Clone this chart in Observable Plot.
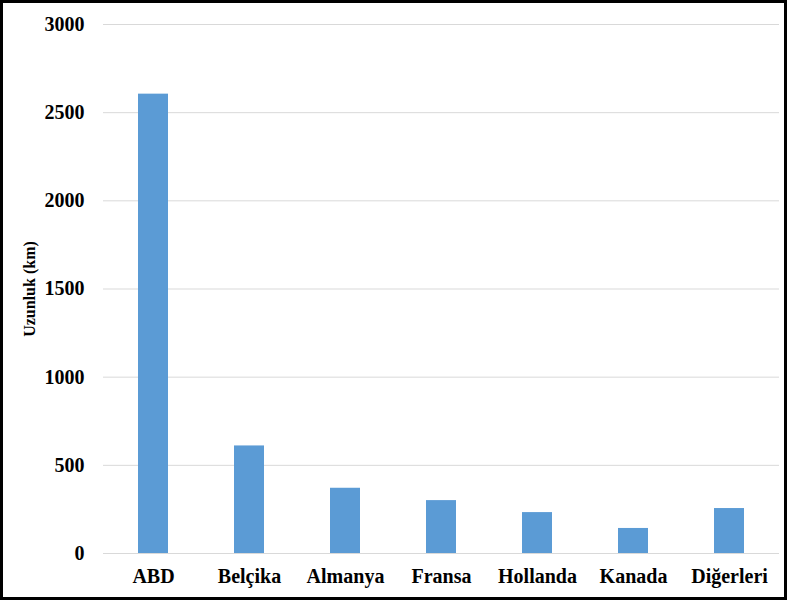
<!DOCTYPE html>
<html>
<head>
<meta charset="utf-8">
<script src="https://cdn.jsdelivr.net/npm/d3@7"></script>
<script src="https://cdn.jsdelivr.net/npm/@observablehq/plot@0.6"></script>
<style>
  html, body { margin: 0; padding: 0; background: #fff; }
  #wrap { position: relative; width: 787px; height: 600px; overflow: hidden; }
  #frame { position: absolute; left: 0; top: 0; width: 787px; height: 600px; box-sizing: border-box; border: 3px solid #000; pointer-events: none; }
</style>
</head>
<body>
<div id="wrap"><div id="frame"></div></div>
<script>
const countries = ["ABD", "Belçika", "Almanya", "Fransa", "Hollanda", "Kanada", "Diğerleri"];
const lengths = [2605, 610, 370, 300, 232, 142, 255];
const yTicks = [0, 500, 1000, 1500, 2000, 2500, 3000];

const data = countries.map((c, i) => ({country: c, value: lengths[i]}));

const chart = Plot.plot({
  width: 787,
  height: 600,
  marginLeft: 103,
  marginRight: 8,
  marginTop: 24,
  marginBottom: 47,
  style: {fontFamily: "'Liberation Serif', 'Times New Roman', serif", fontWeight: "bold", color: "#000", background: "transparent"},
  x: {domain: countries, paddingInner: 0.69, paddingOuter: 0.345, label: null, tickSize: 0, tickPadding: 18},
  y: {domain: [0, 3000], ticks: yTicks, label: null, tickSize: 0, tickPadding: 19},
  marks: [
    Plot.gridY(yTicks, {stroke: "#d9d9d9", strokeOpacity: 1, strokeWidth: 1}),
    Plot.barY(data, {x: "country", y: "value", fill: "#5B9BD5"}),
    Plot.axisY(yTicks, {tickSize: 0, tickPadding: 19, fontSize: 20, fontWeight: "bold", label: null, tickFormat: d => String(d)}),
    Plot.axisX({tickSize: 0, tickPadding: 15, fontSize: 20, fontWeight: "bold", label: null}),
    Plot.axisY({ticks: [], label: "Uzunluk (km)", labelAnchor: "center", labelArrow: "none", labelOffset: 80, fontSize: 16, fontWeight: "bold"})
  ]
});
document.getElementById("wrap").prepend(chart);
</script>
</body>
</html>
